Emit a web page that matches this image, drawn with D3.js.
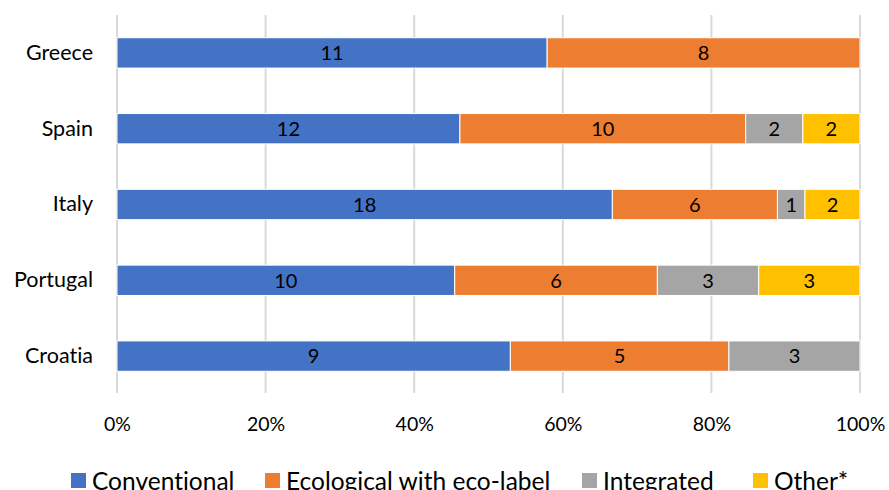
<!DOCTYPE html>
<html>
<head>
<meta charset="utf-8">
<script src="https://cdn.jsdelivr.net/npm/d3@7"></script>
<style>
  body { margin: 0; background: #fff; }
  svg { display: block; font-family: Lato, "Open Sans", sans-serif; font-variant-ligatures: none; }
</style>
</head>
<body>
<svg id="chart" width="889" height="490"></svg>
<script>
// Countries and counts per management type
const countries = ["Greece", "Spain", "Italy", "Portugal", "Croatia"];
const seriesNames = ["Conventional", "Ecological with eco-label", "Integrated", "Other*"];
const conventional = [11, 12, 18, 10, 9];
const ecological   = [8, 10, 6, 6, 5];
const integrated   = [0, 2, 1, 3, 3];
const other        = [0, 2, 2, 3, 0];
const tickValues = [0, 0.2, 0.4, 0.6, 0.8, 1.0];
const colors = ["#4472C4", "#ED7D31", "#A5A5A5", "#FFC000"];

const seriesValues = [conventional, ecological, integrated, other];
const rows = countries.map((c, i) => {
  const r = { country: c };
  seriesNames.forEach((s, k) => r[s] = seriesValues[k][i]);
  return r;
});

const stacked = d3.stack().keys(seriesNames).offset(d3.stackOffsetExpand)(rows);

const svg = d3.select("#chart");
const x = d3.scaleLinear().domain([0, 1]).range([117, 860]);
const y = d3.scaleBand().domain(countries).range([15, 394]).paddingInner(0.6).paddingOuter(0.3);

// vertical gridlines
svg.append("g").selectAll("line").data(tickValues).join("line")
  .attr("x1", d => x(d)).attr("x2", d => x(d))
  .attr("y1", 15).attr("y2", 393)
  .attr("stroke", "#D9D9D9").attr("stroke-width", 2);

// bars
const layer = svg.append("g").selectAll("g").data(stacked).join("g")
  .attr("fill", (d, i) => colors[i]);
layer.selectAll("rect").data(d => d.map(p => ({ p, key: d.key }))).join("rect")
  .attr("x", d => x(d.p[0]))
  .attr("y", d => y(d.p.data.country))
  .attr("width", d => Math.max(0, x(d.p[1]) - x(d.p[0])))
  .attr("height", y.bandwidth())
  .attr("stroke", "#fff").attr("stroke-width", 1);

// value labels
layer.selectAll("text").data(d => d.map(p => ({ p, key: d.key })).filter(d => d.p.data[d.key] > 0))
  .join("text")
  .attr("x", d => (x(d.p[0]) + x(d.p[1])) / 2)
  .attr("y", d => y(d.p.data.country) + y.bandwidth() / 2)
  .attr("dy", "0.36em")
  .attr("text-anchor", "middle")
  .attr("fill", "#000")
  .attr("font-size", 20)
  .text(d => d.p.data[d.key]);

// y axis labels
const yAxis = d3.axisLeft(y).tickSize(0).tickPadding(24);
const gy = svg.append("g").attr("transform", `translate(${x(0)},0)`).call(yAxis);
gy.select(".domain").remove();
gy.selectAll("text").attr("font-size", 21.5).attr("fill", "#000")
  .style("font-family", "Lato, 'Open Sans', sans-serif");

// x axis labels
const xAxis = d3.axisBottom(x).tickValues(tickValues).tickFormat(d3.format(".0%")).tickSize(0).tickPadding(0);
const gx = svg.append("g").attr("transform", "translate(0,417)").call(xAxis);
gx.select(".domain").remove();
gx.selectAll("text").attr("font-size", 19.5).attr("fill", "#000")
  .style("font-family", "Lato, 'Open Sans', sans-serif");

// legend
const legendX = [71, 265, 582, 753];
const legend = svg.append("g").selectAll("g").data(seriesNames).join("g")
  .attr("transform", (d, i) => `translate(${legendX[i]},473)`);
legend.append("rect").attr("width", 15).attr("height", 15).attr("fill", (d, i) => colors[i]);
legend.append("text").attr("x", 21).attr("y", 17).attr("font-size", 24.5).attr("fill", "#000").text(d => d);
</script>
</body>
</html>
